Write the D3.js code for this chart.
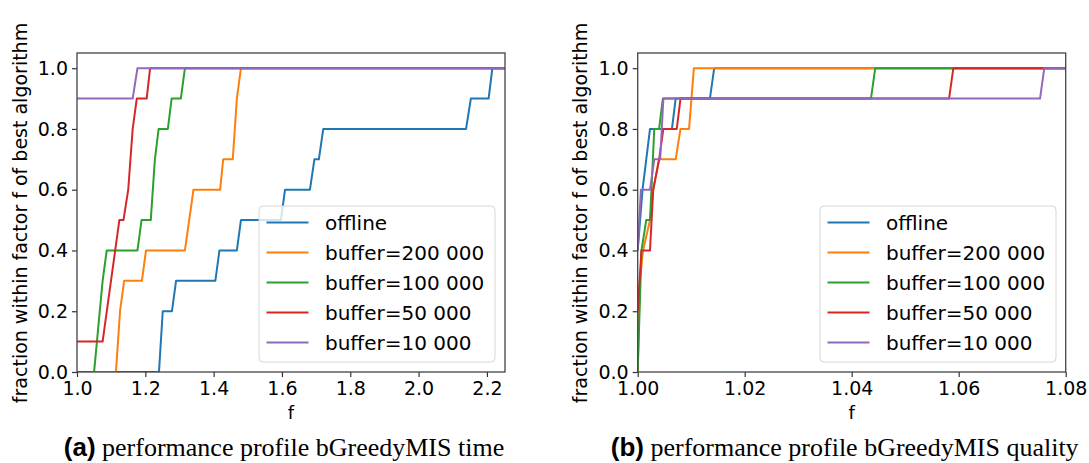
<!DOCTYPE html>
<html>
<head>
<meta charset="utf-8">
<script src="https://cdn.jsdelivr.net/npm/d3@7"></script>
<style>
body { margin: 0; background: #fff; }
text { font-family: "DejaVu Sans", sans-serif; fill: #000; }
.caption { font-family: "Liberation Serif", serif; }
.caption .tag { font-family: "Liberation Sans", sans-serif; font-weight: bold; }
</style>
</head>
<body>
<div id="chart"></div>
<script>
// series names + colours (matplotlib tab10)
const seriesNames = ["offline", "buffer=200 000", "buffer=100 000", "buffer=50 000", "buffer=10 000"];
const seriesColors = ["#1f77b4", "#ff7f0e", "#2ca02c", "#d62728", "#9467bd"];

// (a) time profile, [f, fraction]
const timeOffline = [[1.0,0],[1.240,0],[1.251,0.2],[1.278,0.2],[1.290,0.3],[1.405,0.3],[1.417,0.4],[1.468,0.4],[1.480,0.5],[1.597,0.5],[1.609,0.6],[1.682,0.6],[1.695,0.7],[1.708,0.7],[1.721,0.8],[2.139,0.8],[2.153,0.9],[2.205,0.9],[2.216,1.0],[2.253,1.0]];
const time200k = [[1.0,0],[1.114,0],[1.126,0.2],[1.138,0.3],[1.190,0.3],[1.202,0.4],[1.316,0.4],[1.341,0.6],[1.419,0.6],[1.428,0.7],[1.456,0.7],[1.468,0.9],[1.480,1.0],[2.253,1.0]];
const time100k = [[1.0,0],[1.050,0],[1.075,0.3],[1.087,0.4],[1.177,0.4],[1.189,0.5],[1.216,0.5],[1.228,0.7],[1.239,0.8],[1.266,0.8],[1.277,0.9],[1.304,0.9],[1.316,1.0],[2.253,1.0]];
const time50k = [[1.0,0.1],[1.075,0.1],[1.124,0.5],[1.136,0.5],[1.150,0.6],[1.163,0.8],[1.175,0.9],[1.204,0.9],[1.214,1.0],[2.253,1.0]];
const time10k = [[1.0,0.9],[1.163,0.9],[1.177,1.0],[2.253,1.0]];

// (b) quality profile
const qualOffline = [[1.0,0.4],[1.0009,0.6],[1.0016,0.7],[1.0023,0.8],[1.0064,0.8],[1.0071,0.9],[1.0135,0.9],[1.0143,1.0],[1.08,1.0]];
const qual200k = [[1.0,0],[1.0004,0.3],[1.001,0.4],[1.0023,0.5],[1.0029,0.6],[1.004,0.7],[1.0071,0.7],[1.008,0.8],[1.0096,0.8],[1.0105,1.0],[1.08,1.0]];
const qual100k = [[1.0,0],[1.0007,0.4],[1.0016,0.5],[1.0023,0.5],[1.0031,0.8],[1.004,0.8],[1.0047,0.9],[1.0436,0.9],[1.0444,1.0],[1.08,1.0]];
const qual50k = [[1.0,0.2],[1.0007,0.4],[1.0023,0.4],[1.0029,0.6],[1.004,0.7],[1.0048,0.8],[1.0073,0.8],[1.008,0.9],[1.0582,0.9],[1.059,1.0],[1.08,1.0]];
const qual10k = [[1.0,0.4],[1.0006,0.6],[1.0023,0.6],[1.0031,0.7],[1.0042,0.7],[1.0048,0.9],[1.0752,0.9],[1.076,1.0],[1.08,1.0]];

const yTicks = [0, 0.2, 0.4, 0.6, 0.8, 1.0];
const timeTicks = [1.0, 1.2, 1.4, 1.6, 1.8, 2.0, 2.2];
const qualTicks = [1.00, 1.02, 1.04, 1.06, 1.08];

const width = 1089, height = 463;

let svg = d3.select("#chart").append("svg")
    .attr("width", width)
    .attr("height", height);

function drawPanel(opts) {
    const x = d3.scaleLinear().domain(opts.xDomain).range([opts.left, opts.right]);
    const y = d3.scaleLinear().domain([0, 1.05]).range([372, 53]);
    const g = svg.append("g");

    g.append("clipPath").attr("id", opts.id + "-clip")
        .append("rect")
        .attr("x", opts.left).attr("y", 53)
        .attr("width", opts.right - opts.left).attr("height", 372 - 53);

    const line = d3.line().x(d => x(d[0])).y(d => y(d[1]));

    opts.series.forEach((s, i) => {
        g.append("path")
            .datum(s)
            .attr("clip-path", `url(#${opts.id}-clip)`)
            .attr("fill", "none")
            .attr("stroke", seriesColors[i])
            .attr("stroke-width", 2)
            .attr("stroke-linejoin", "round")
            .attr("d", line);
    });

    // axes
    const xAxis = g.append("g")
        .attr("transform", "translate(0,372)")
        .call(d3.axisBottom(x).tickValues(opts.xTicks).tickFormat(d3.format(opts.fmt)).tickSize(5).tickPadding(5));
    const yAxis = g.append("g")
        .attr("transform", `translate(${opts.left},0)`)
        .call(d3.axisLeft(y).tickValues(yTicks).tickFormat(d3.format(".1f")).tickSize(5).tickPadding(4));
    [xAxis, yAxis].forEach(a => {
        a.select(".domain").remove();
        a.selectAll("text").style("font-family", "DejaVu Sans").style("font-size", "19px").attr("fill", "#000");
        a.selectAll("line").attr("stroke", "#333").attr("stroke-width", 1.2);
    });

    // frame
    g.append("rect")
        .attr("x", opts.left).attr("y", 53)
        .attr("width", opts.right - opts.left).attr("height", 372 - 53)
        .attr("fill", "none").attr("stroke", "#444").attr("stroke-width", 1.3);

    // axis titles
    g.append("text")
        .attr("x", (opts.left + opts.right) / 2)
        .attr("y", 419)
        .style("font-size", "18px")
        .style("text-anchor", "middle")
        .text("f");

    g.append("text")
        .attr("transform", `translate(${opts.left - 57},213) rotate(-90)`)
        .attr("dy", "0.35em")
        .style("font-size", "19px")
        .style("text-anchor", "middle")
        .text("fraction within factor f of best algorithm");

    // legend
    const legend = g.append("g")
        .attr("transform", `translate(${opts.legendX},206)`);
    legend.append("rect")
        .attr("width", 236).attr("height", 156)
        .attr("rx", 4)
        .attr("fill", "#fff").attr("fill-opacity", 0.8)
        .attr("stroke", "#d6d6d6").attr("stroke-width", 1);
    seriesNames.forEach((name, i) => {
        legend.append("line")
            .attr("x1", 7.5).attr("x2", 49.5)
            .attr("y1", 16.5 + i * 30).attr("y2", 16.5 + i * 30)
            .attr("stroke", seriesColors[i]).attr("stroke-width", 2);
        legend.append("text")
            .attr("x", 66).attr("y", 16.5 + i * 30)
            .attr("dy", "0.35em")
            .style("font-size", "20px")
            .text(name);
    });

    // caption
    const cap = g.append("text")
        .attr("class", "caption")
        .attr("x", (opts.left + opts.right) / 2 - 7)
        .attr("y", 456)
        .style("font-size", "26px")
        .style("text-anchor", "middle");
    cap.append("tspan").attr("class", "tag").text(opts.tag);
    cap.append("tspan").text(" " + opts.caption);
}

drawPanel({
    id: "time", left: 77, right: 505, xDomain: [1.0, 2.253],
    xTicks: timeTicks, fmt: ".1f", legendX: 259,
    series: [timeOffline, time200k, time100k, time50k, time10k],
    tag: "(a)", caption: "performance profile bGreedyMIS time"
});

drawPanel({
    id: "qual", left: 637.7, right: 1065.7, xDomain: [1.0, 1.08],
    xTicks: qualTicks, fmt: ".2f", legendX: 820,
    series: [qualOffline, qual200k, qual100k, qual50k, qual10k],
    tag: "(b)", caption: "performance profile bGreedyMIS quality"
});
</script>
</body>
</html>
